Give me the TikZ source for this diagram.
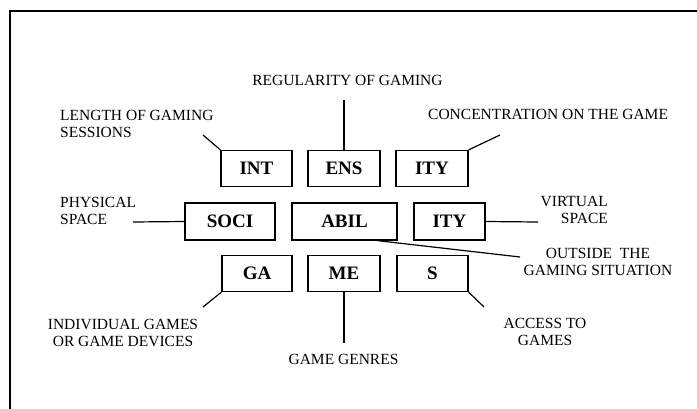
\documentclass[tikz,border=0pt]{standalone}
\usepackage{fontspec}
\setmainfont{Liberation Serif}
\begin{document}
\begin{tikzpicture}[x=1pt,y=-1pt,
  part/.style={draw,line width=1.3pt,minimum height=36pt,inner sep=0pt,font=\fontsize{19}{20}\selectfont\bfseries},
  note/.style={inner sep=0pt,font=\fontsize{15.5}{17}\selectfont},
  link/.style={line width=1.2pt}]
\useasboundingbox (0,0) rectangle (697,408);
\draw[line width=1.5pt] (10,410) -- (10,11) -- (699,11);
\node[part,minimum width=71pt] (int) at (256.5,168.5) {INT};
\node[part,minimum width=72pt] (ens) at (344,168.5) {ENS};
\node[part,minimum width=72pt] (ityA) at (432,168.5) {ITY};
\node[part,minimum width=90pt,minimum height=37pt] (soci) at (230,221.5) {SOCI};
\node[part,minimum width=105pt,minimum height=37pt] (abil) at (344.5,221.5) {ABIL};
\node[part,minimum width=71pt,minimum height=37pt] (ityB) at (449.5,221.5) {ITY};
\node[part,minimum width=70pt] (ga) at (257,273.5) {GA};
\node[part,minimum width=72pt] (me) at (344,273.5) {ME};
\node[part,minimum width=71pt] (s) at (432.5,273.5) {S};
\node[note,anchor=north] (regularity) at (347.5,75) {REGULARITY OF GAMING};
\node[note,anchor=north west,align=left] (length) at (60,110) {LENGTH OF GAMING\\SESSIONS};
\node[note,anchor=north west] (concentration) at (428,109) {CONCENTRATION ON THE GAME};
\node[note,anchor=north west,align=left] (physical) at (60,197) {PHYSICAL\\SPACE};
\node[note,anchor=north east,align=right] (virtual) at (608,196) {VIRTUAL\\SPACE};
\node[note,anchor=north,align=center] (outside) at (598,248) {OUTSIDE~~THE\\GAMING SITUATION};
\node[note,anchor=north,align=center] (access) at (545,318) {ACCESS TO\\GAMES};
\node[note,anchor=north] (genres) at (343.5,354) {GAME GENRES};
\node[note,anchor=north,align=center] (individual) at (123,319) {INDIVIDUAL GAMES\\OR GAME DEVICES};
\coordinate (regularityEnd) at (344,100);
\coordinate (lengthEnd) at (203,135);
\coordinate (concentrationEnd) at (500,135);
\coordinate (physicalEnd) at (133,222);
\coordinate (virtualEnd) at (538,222);
\coordinate (outsideEnd) at (520,257);
\coordinate (accessEnd) at (484,307);
\coordinate (genresEnd) at (344,343);
\coordinate (individualEnd) at (203,307);
\draw[link] (regularityEnd) -- (ens.north);
\draw[link] (lengthEnd) -- (int.north west);
\draw[link] (ityA.north east) -- (concentrationEnd);
\draw[link] (physicalEnd) -- (soci.west);
\draw[link] (ityB.east) -- (virtualEnd);
\draw[link] (abil.-30) -- (outsideEnd);
\draw[link] (s.south east) -- (accessEnd);
\draw[link] (me.south) -- (genresEnd);
\draw[link] (ga.south west) -- (individualEnd);
\end{tikzpicture}
\end{document}
